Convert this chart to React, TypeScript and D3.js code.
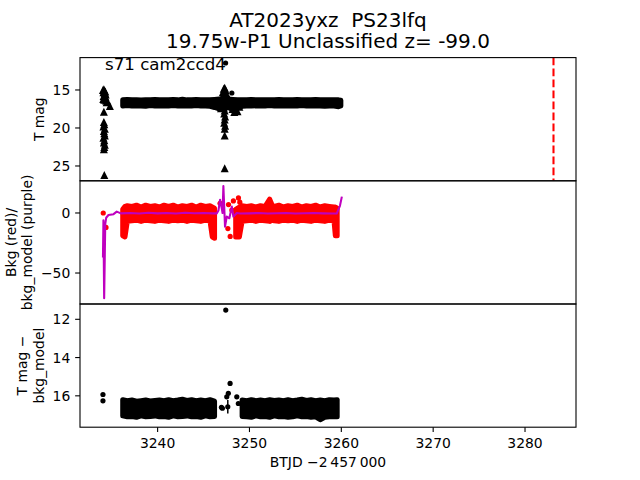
import React from 'react';
import * as d3 from 'd3';

// ---------- data ----------
const xDomain = [3231.55, 3285.55];
const xTicks = [3240, 3250, 3260, 3270, 3280];
const magDomain = [10.74, 26.95];
const magTicks = [15, 20, 25];
const bkgDomain = [-75.8, 26.8];
const bkgTicks = [-50, 0];
const resDomain = [11.2, 17.64];
const resTicks = [12, 14, 16];
const discoveryT = 3283.1;

// Panel 1 dense band (T mag), envelope of the point cloud
const p1T = [
  3236.2, 3236.7, 3237.2, 3237.7, 3238.2, 3238.7, 3239.2, 3239.7, 3240.2, 3240.7,
  3241.2, 3241.7, 3242.2, 3242.7, 3243.2, 3243.7, 3244.2, 3244.7, 3245.2, 3245.7,
  3246.2, 3246.7, 3247.2, 3247.7, 3248.2, 3248.7, 3249.2, 3249.7, 3250.2, 3250.7,
  3251.2, 3251.7, 3252.2, 3252.7, 3253.2, 3253.7, 3254.2, 3254.7, 3255.2, 3255.7,
  3256.2, 3256.7, 3257.2, 3257.7, 3258.2, 3258.7, 3259.2, 3259.7, 3259.95,
];
const p1Hi = [
  16.30, 16.25, 16.30, 16.28, 16.32, 16.27, 16.30, 16.25, 16.30, 16.28,
  16.30, 16.26, 16.30, 16.22, 16.30, 16.27, 16.25, 16.30, 16.28, 16.30,
  16.25, 16.20, 16.10, 16.20, 16.25, 16.30, 16.28, 16.30, 16.25, 16.30,
  16.28, 16.30, 16.27, 16.30, 16.25, 16.30, 16.28, 16.30, 16.26, 16.30,
  16.28, 16.30, 16.25, 16.30, 16.28, 16.30, 16.27, 16.30, 16.35,
];
const p1Lo = [
  17.10, 17.05, 17.12, 17.08, 17.10, 17.15, 17.05, 17.10, 17.08, 17.12,
  17.10, 17.05, 17.10, 17.12, 17.08, 17.10, 17.05, 17.10, 17.12, 17.15,
  17.30, 17.50, 17.40, 17.30, 17.60, 17.40, 17.15, 17.10, 17.12, 17.08,
  17.10, 17.12, 17.05, 17.10, 17.12, 17.08, 17.10, 17.12, 17.10, 17.05,
  17.10, 17.12, 17.08, 17.10, 17.15, 17.10, 17.12, 17.20, 17.10,
];

// Panel 1 triangles (flagged points)
const triT = [
  3234.05, 3234.1, 3234.15, 3234.2, 3234.25, 3234.3, 3234.35, 3234.12, 3234.22, 3234.32,
  3234.08, 3234.18, 3234.28, 3234.38, 3234.45, 3234.55, 3234.8, 3234.15,
  3234.15, 3234.2, 3234.1, 3234.25, 3234.15, 3234.2, 3234.25, 3234.1, 3234.2, 3234.15,
  3234.25, 3234.2, 3234.15, 3234.2,
  3247.0, 3247.1, 3247.2, 3247.3, 3247.4, 3247.5, 3247.25, 3247.35, 3247.2, 3247.3,
  3247.25, 3247.35, 3247.3, 3247.25, 3247.35, 3247.3, 3247.3, 3247.3, 3246.7, 3246.9,
  3247.7, 3247.9, 3248.15, 3248.35, 3248.5, 3248.7, 3248.6, 3248.9,
];
const triM = [
  15.0, 15.3, 14.9, 15.1, 15.4, 15.2, 15.6, 15.8, 16.0, 15.9,
  16.2, 16.3, 16.1, 16.4, 16.6, 16.5, 17.1, 17.85,
  19.2, 19.5, 19.8, 20.1, 20.4, 20.7, 21.0, 21.3, 21.6, 21.9,
  22.2, 22.5, 22.8, 26.2,
  16.0, 15.3, 14.85, 14.7, 15.0, 15.5, 16.3, 16.8, 17.3, 17.7,
  18.1, 18.5, 18.9, 19.3, 19.7, 20.1, 21.0, 25.3, 17.0, 17.4,
  16.4, 16.9, 17.5, 17.9, 17.6, 17.8, 16.8, 17.2,
];
// Panel 1 extra circles
const p1PtT = [3247.4, 3248.08, 3247.6];
const p1PtM = [11.45, 15.4, 16.0];

// Panel 2 background (red) envelope, two segments
const redTA = [
  3236.2, 3236.45, 3236.7, 3237.2, 3237.7, 3238.2, 3238.7, 3239.2, 3239.7, 3240.2,
  3240.7, 3241.2, 3241.7, 3242.2, 3242.7, 3243.2, 3243.7, 3244.2, 3244.7, 3245.2,
  3245.7, 3245.95, 3246.2,
];
const redHiA = [
  3.0, 5.5, 6.0, 5.5, 6.5, 5.0, 6.5, 5.5, 6.0, 5.0,
  6.5, 5.5, 6.5, 5.0, 6.0, 5.5, 6.5, 5.0, 6.5, 5.5,
  6.0, 5.0, 4.0,
];
const redLoA = [
  -19, -20, -7, -6.5, -6, -7, -6, -6.5, -7, -6,
  -6.5, -7, -6, -6.5, -6, -7, -6, -6.5, -7, -6,
  -6.5, -20, -21,
];
const redTB = [
  3248.5, 3248.9, 3249.2, 3249.7, 3250.2, 3250.7, 3251.2, 3251.7, 3252.2, 3252.5,
  3252.7, 3253.2, 3253.7, 3254.2, 3254.7, 3255.2, 3255.7, 3256.2, 3256.7, 3257.2,
  3257.7, 3258.2, 3258.7, 3259.2, 3259.35, 3259.55,
];
const redHiB = [
  3.0, 5.0, 6.0, 5.5, 6.0, 5.0, 6.0, 5.5, 11.5, 6.0,
  5.5, 6.5, 5.0, 6.0, 5.5, 6.5, 5.0, 6.0, 5.5, 6.5,
  5.0, 6.0, 5.5, 5.0, 5.0, 4.0,
];
const redLoB = [
  -20, -20, -7, -6.5, -6, -7, -6, -6.5, -7, -6,
  -6.5, -7, -6, -6.5, -6, -7, -6, -6.5, -7, -6,
  -6.5, -7, -6, -6.5, -19, -19,
];
const redPtT = [3234.08, 3234.38, 3246.8, 3247.65, 3247.72, 3247.9, 3248.08, 3248.25, 3248.8, 3248.95, 3248.95];
const redPtV = [0, -12, 8, -13, 7, -19.5, 2.5, 10, 12.5, 9, 2];

// Panel 2 bkg_model (purple line)
const purpT = [
  3234.05, 3234.1, 3234.18, 3234.3, 3234.4, 3234.65, 3235.2, 3235.55, 3236.0, 3237.0,
  3238.0, 3239.0, 3240.0, 3241.0, 3242.0, 3243.0, 3244.0, 3245.0, 3246.0, 3246.45,
  3246.62, 3246.8, 3246.98, 3247.07, 3247.16, 3247.34, 3247.53, 3247.81, 3248.08, 3248.25,
  3248.62, 3249.0, 3250.0, 3251.0, 3252.0, 3253.0, 3254.0, 3255.0, 3256.0, 3257.0,
  3258.0, 3259.0, 3259.5, 3259.69, 3259.85, 3260.06,
];
const purpV = [
  -37, -6, -71, -9, -4, -1.7, -1, 1.1, -0.3, 0,
  -0.5, 0.2, -0.3, 0, -0.4, 0.2, -0.2, 0, -0.3, -0.3,
  2, 11, 4, 0, 22.5, -11.4, -3, -4.4, 5.3, -3,
  0, -0.5, -0.3, 0, -0.5, -0.2, 0, -0.4, -0.2, 0,
  -0.3, -0.5, -0.5, 3, 6, 13.6,
];

// Panel 3 (T mag - bkg_model) band, two segments
const p3TA = [
  3236.2, 3236.7, 3237.2, 3237.7, 3238.2, 3238.7, 3239.2, 3239.7, 3240.2, 3240.7,
  3241.2, 3241.7, 3242.2, 3242.7, 3243.2, 3243.7, 3244.2, 3244.7, 3245.2, 3245.7,
  3246.2,
];
const p3HiA = [
  16.20, 16.25, 16.22, 16.28, 16.25, 16.22, 16.27, 16.24, 16.22, 16.25,
  16.20, 16.25, 16.22, 16.18, 16.24, 16.20, 16.25, 16.22, 16.25, 16.20,
  16.28,
];
const p3LoA = [
  17.05, 17.10, 17.08, 17.12, 17.05, 17.10, 17.08, 17.05, 17.10, 17.08,
  17.12, 17.05, 17.10, 17.08, 17.05, 17.10, 17.08, 17.12, 17.05, 17.10,
  17.08,
];
const p3TB = [
  3249.2, 3249.7, 3250.2, 3250.7, 3251.2, 3251.7, 3252.2, 3252.7, 3253.2, 3253.7,
  3254.2, 3254.7, 3255.2, 3255.7, 3256.2, 3256.7, 3257.2, 3257.7, 3258.2, 3258.7,
  3259.2, 3259.55,
];
const p3HiB = [
  16.22, 16.25, 16.20, 16.25, 16.22, 16.25, 16.20, 16.24, 16.22, 16.25,
  16.20, 16.25, 16.22, 16.18, 16.24, 16.20, 16.25, 16.22, 16.25, 16.20,
  16.22, 16.20,
];
const p3LoB = [
  17.08, 17.10, 17.12, 17.05, 17.10, 17.08, 17.12, 17.05, 17.10, 17.08,
  17.12, 17.10, 17.05, 17.10, 17.08, 17.12, 17.10, 17.25, 17.12, 17.10,
  17.08, 17.10,
];
const p3PtT = [3234.05, 3234.05, 3246.95, 3247.05, 3247.42, 3247.53, 3247.64, 3247.7, 3247.89, 3248.62, 3248.79];
const p3PtV = [15.93, 16.26, 16.6, 16.65, 11.52, 16.05, 16.57, 15.87, 15.35, 16.05, 16.4];
const p3ErrT = [3247.64];
const p3ErrV = [16.57];
const p3ErrE = [0.35];

const titleLines = ['AT2023yxz  PS23lfq', '19.75w-P1 Unclassified z= -99.0'];

// ---------- layout ----------
const W = 640, H = 480;
const X0 = 80, X1 = 576;
const PT = [57.6, 180.8, 304, 427.2];
const FONT = 'DejaVu Sans, sans-serif';
const FS = 13.9;
const BLACK = '#000000', RED = '#ff0000', PURPLE = '#bf00bf';

function band(x: any, y: any, T: number[], hi: number[], lo: number[]) {
  const rows = T.map((t, i) => ({ t, hi: hi[i], lo: lo[i] }));
  return d3.area<any>().x(d => x(d.t)).y0(d => y(d.lo)).y1(d => y(d.hi))(rows) || '';
}
function tri(cx: number, cy: number, s: number) {
  return `M${cx},${cy - s / 2}L${cx - s / 2},${cy + s / 2}L${cx + s / 2},${cy + s / 2}Z`;
}
const fmt = (v: number) => (v < 0 ? '\u2212' + Math.abs(v) : String(v));

export default function App() {
  const x = d3.scaleLinear().domain(xDomain).range([X0, X1]);
  const y1 = d3.scaleLinear().domain(magDomain).range([PT[0], PT[1]]);
  const y2 = d3.scaleLinear().domain(bkgDomain).range([PT[2], PT[1]]);
  const y3 = d3.scaleLinear().domain(resDomain).range([PT[2], PT[3]]);
  const purpLine = d3.line<number>().x((_, i) => x(purpT[i])).y(v => y2(v))(purpV) || '';

  const yAxis = (scale: any, ticks: number[], key: string) => (
    <g key={key}>
      {ticks.map(t => (
        <g key={t}>
          <line x1={X0 - 4.86} x2={X0} y1={scale(t)} y2={scale(t)} stroke={BLACK} strokeWidth={1.1} />
          <text x={X0 - 9.72} y={scale(t) + 5} textAnchor="end" fontSize={FS} fontFamily={FONT}>{fmt(t)}</text>
        </g>
      ))}
    </g>
  );
  const ylabel = (lines: string[], cy: number, lastBase: number) => (
    <text transform={`translate(0,${cy}) rotate(-90)`} textAnchor="middle" fontSize={FS} fontFamily={FONT}>
      {lines.map((l, i) => (
        <tspan key={i} x={0} y={lastBase - (lines.length - 1 - i) * 16.5}>{l}</tspan>
      ))}
    </text>
  );

  return (
    <svg width={W} height={H} style={{ position: 'absolute', left: 0, top: 0, background: '#fff' }}>
      <defs>
        {[0, 1, 2].map(i => (
          <clipPath id={`clip${i}`} key={i}>
            <rect x={X0} y={PT[i]} width={X1 - X0} height={PT[i + 1] - PT[i]} />
          </clipPath>
        ))}
      </defs>
      <rect x={0} y={0} width={W} height={H} fill="#fff" />

      {/* Panel 1 */}
      <g clipPath="url(#clip0)">
        <path d={band(x, y1, p1T, p1Hi, p1Lo)} fill={BLACK} stroke={BLACK} strokeWidth={5} strokeLinejoin="round" />
        {triT.map((t, i) => (
          <path key={i} d={tri(x(t), y1(triM[i]), 8)} fill={BLACK} />
        ))}
        {p1PtT.map((t, i) => (
          <circle key={i} cx={x(t)} cy={y1(p1PtM[i])} r={2.6} fill={BLACK} />
        ))}
        <line x1={x(discoveryT)} x2={x(discoveryT)} y1={PT[0]} y2={PT[1]} stroke={RED} strokeWidth={2.08} strokeDasharray="7.7,3.3" />
      </g>
      <text x={105} y={70} fontSize={16.67} fontFamily={FONT}>s71 cam2ccd4</text>

      {/* Panel 2 */}
      <g clipPath="url(#clip1)">
        <path d={band(x, y2, redTA, redHiA, redLoA)} fill={RED} stroke={RED} strokeWidth={5} strokeLinejoin="round" />
        <path d={band(x, y2, redTB, redHiB, redLoB)} fill={RED} stroke={RED} strokeWidth={5} strokeLinejoin="round" />
        {redPtT.map((t, i) => (
          <circle key={i} cx={x(t)} cy={y2(redPtV[i])} r={2.6} fill={RED} />
        ))}
        <path d={purpLine} fill="none" stroke={PURPLE} strokeWidth={2.08} strokeLinejoin="round" />
      </g>

      {/* Panel 3 */}
      <g clipPath="url(#clip2)">
        <path d={band(x, y3, p3TA, p3HiA, p3LoA)} fill={BLACK} stroke={BLACK} strokeWidth={5} strokeLinejoin="round" />
        <path d={band(x, y3, p3TB, p3HiB, p3LoB)} fill={BLACK} stroke={BLACK} strokeWidth={5} strokeLinejoin="round" />
        {p3ErrT.map((t, i) => (
          <line key={i} x1={x(t)} x2={x(t)} y1={y3(p3ErrV[i] - p3ErrE[i])} y2={y3(p3ErrV[i] + p3ErrE[i])} stroke={BLACK} strokeWidth={1.5} />
        ))}
        {p3PtT.map((t, i) => (
          <circle key={i} cx={x(t)} cy={y3(p3PtV[i])} r={2.6} fill={BLACK} />
        ))}
      </g>

      {/* frames */}
      {[0, 1, 2].map(i => (
        <rect key={i} x={X0} y={PT[i]} width={X1 - X0} height={PT[i + 1] - PT[i]} fill="none" stroke={BLACK} strokeWidth={1.1} />
      ))}

      {yAxis(y1, magTicks, 'a1')}
      {yAxis(y2, bkgTicks, 'a2')}
      {yAxis(y3, resTicks, 'a3')}

      {/* x axis */}
      {xTicks.map(t => (
        <g key={t}>
          <line x1={x(t)} x2={x(t)} y1={PT[3]} y2={PT[3] + 4.86} stroke={BLACK} strokeWidth={1.1} />
          <text x={x(t)} y={447.5} textAnchor="middle" fontSize={FS} fontFamily={FONT}>{t}</text>
        </g>
      ))}
      <text x={(X0 + X1) / 2} y={467} textAnchor="middle" fontSize={FS} fontFamily={FONT}>BTJD {'\u2212'}2{'\u2009'}457{'\u2009'}000</text>

      {ylabel(['T mag'], (PT[0] + PT[1]) / 2, 43.7)}
      {ylabel(['Bkg (red)/', 'bkg_model (purple)'], (PT[1] + PT[2]) / 2, 32.1)}
      {ylabel(['T mag \u2212', 'bkg_model'], (PT[2] + PT[3]) / 2, 43.7)}

      {titleLines.map((l, i) => (
        <text key={i} x={(X0 + X1) / 2} y={i === 0 ? 27 : 48} textAnchor="middle" fontSize={20} fontFamily={FONT} style={{ whiteSpace: 'pre' }}>{l}</text>
      ))}
    </svg>
  );
}
